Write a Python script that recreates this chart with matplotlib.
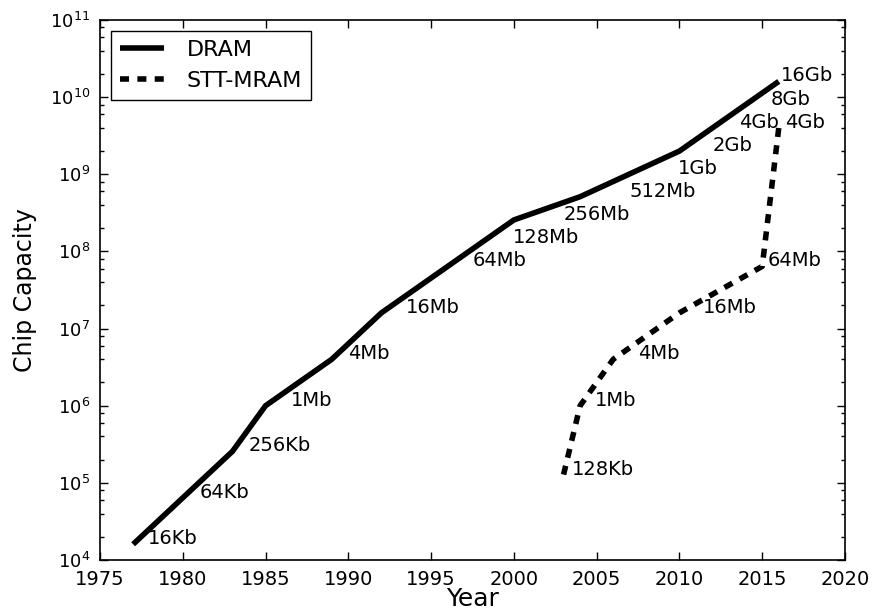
import matplotlib
matplotlib.use('Agg')
import matplotlib.pyplot as plt
from matplotlib.ticker import LogLocator, NullFormatter, FixedLocator

# ---- data ----
dram_years = [1977, 1983, 1985, 1989, 1992, 2000, 2004, 2010, 2016]
dram_capacity = [1.6e4, 2.56e5, 1e6, 4e6, 1.6e7, 2.56e8, 5.12e8, 2e9, 1.6e10]

dram_labels = ['16Kb', '64Kb', '256Kb', '1Mb', '4Mb', '16Mb', '64Mb', '128Mb',
               '256Mb', '512Mb', '1Gb', '2Gb', '4Gb', '8Gb', '16Gb']
dram_label_values = [1.6e4, 6.4e4, 2.56e5, 1e6, 4e6, 1.6e7, 6.4e7, 1.28e8,
                     2.56e8, 5.12e8, 1e9, 2e9, 4e9, 8e9, 1.6e10]
dram_label_years = [1977.9, 1981.0, 1984.0, 1986.5, 1990.0, 1993.45, 1997.5, 1999.95,
                    2003.0, 2007.0, 2009.9, 2012.0, 2013.6, 2015.5, 2016.15]

mram_years = [2003, 2004, 2006, 2010, 2015, 2016]
mram_capacity = [1.28e5, 1e6, 4e6, 1.6e7, 6.4e7, 4e9]
mram_labels = ['128Kb', '1Mb', '4Mb', '16Mb', '64Mb', '4Gb']
mram_label_years = [2003.5, 2004.9, 2007.5, 2011.4, 2015.3, 2016.4]

x_ticks = [1975, 1980, 1985, 1990, 1995, 2000, 2005, 2010, 2015, 2020]

# ---- figure ----
plt.rcParams['font.family'] = ['DejaVu Sans']
plt.rcParams['lines.scale_dashes'] = False
fig = plt.figure(figsize=(8.72, 6.14), dpi=100)
ax = fig.add_axes([100 / 872, 1 - 560 / 614, 745 / 872, 540 / 614])

ax.plot(dram_years, dram_capacity, color='black', lw=4, label='DRAM',
        solid_capstyle='butt')
ax.plot(mram_years, mram_capacity, color='black', lw=4, label='STT-MRAM',
        dashes=(6.5, 6), dash_capstyle='butt')

for lab, yr, val in zip(dram_labels, dram_label_years, dram_label_values):
    ax.text(yr, val, lab, fontsize=14, ha='left', va='baseline')
for lab, yr, val in zip(mram_labels, mram_label_years, mram_capacity):
    ax.text(yr, val, lab, fontsize=14, ha='left', va='baseline')

ax.set_yscale('log')
ax.set_xlim(1975, 2020)
ax.set_ylim(1e4, 1e11)
ax.set_xticks(x_ticks)
ax.set_xticklabels([str(t) for t in x_ticks])
ax.yaxis.set_major_locator(LogLocator(base=10, numticks=20))
ax.yaxis.set_minor_locator(LogLocator(base=10, subs=[2, 4, 6, 8], numticks=20))
ax.yaxis.set_minor_formatter(NullFormatter())
ax.xaxis.set_minor_locator(FixedLocator([]))

ax.tick_params(which='both', direction='in', top=True, right=True)
ax.tick_params(which='major', length=6, width=1)
ax.tick_params(which='minor', length=3, width=1)
ax.tick_params(axis='x', which='major', labelsize=14, pad=7)
ax.tick_params(axis='y', which='major', labelsize=13, pad=7)

for s in ax.spines.values():
    s.set_linewidth(1.2)

ax.set_xlabel('Year', fontsize=18, labelpad=-1)
ax.set_ylabel('Chip Capacity', fontsize=17, labelpad=9)

leg = ax.legend(loc='upper left', fontsize=16, fancybox=False, framealpha=1,
                edgecolor='black', handlelength=2.0, handletextpad=1.0,
                borderaxespad=0.5)
leg.get_frame().set_linewidth(1.0)

fig.savefig('out.png', dpi=100)
